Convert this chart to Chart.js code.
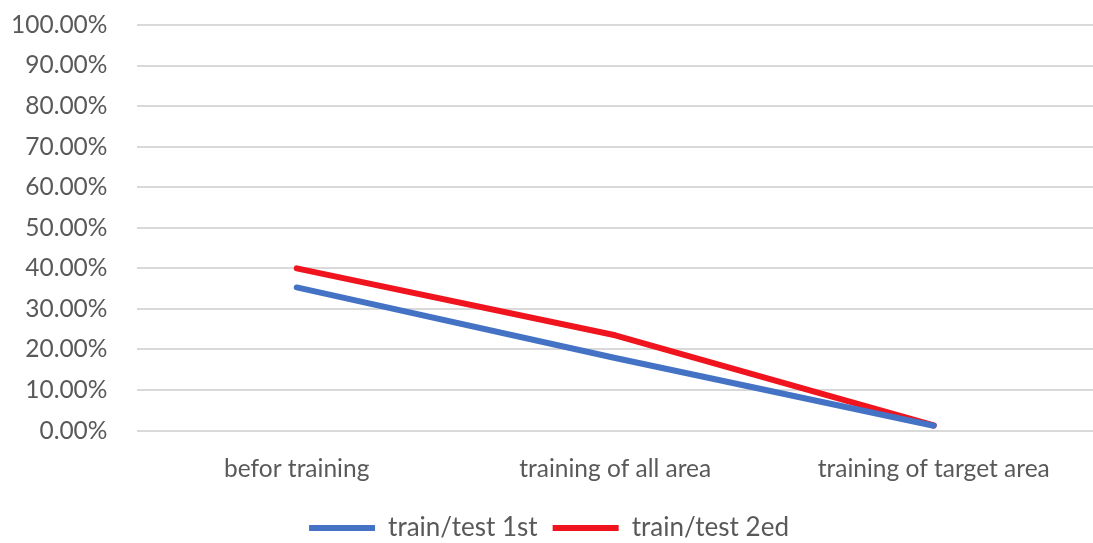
<!DOCTYPE html>
<html>
<head>
<meta charset="utf-8">
<script src="https://cdn.jsdelivr.net/npm/chart.js@4/dist/chart.umd.min.js"></script>
<style>
  html, body { margin: 0; padding: 0; background: #ffffff; }
  #wrap { width: 1093px; height: 543px; }
</style>
</head>
<body>
<div id="wrap"><canvas id="c" width="1093" height="543"></canvas></div>
<script>
// Stages of training (x categories)
const categories = ['befor training', 'training of all area', 'training of target area'];
// Error rate per run, in percent
const firstRun = [35.3, 17.9, 1.2];
const secondRun = [40.0, 23.5, 1.3];
const seriesNames = ['train/test 1st', 'train/test 2ed'];

const textColor = '#595959';
const fontFamily = 'Lato, "Open Sans", sans-serif';
const fontSize = 24.5;

new Chart(document.getElementById('c'), {
  type: 'line',
  data: {
    labels: categories,
    datasets: [
      {
        label: seriesNames[0],
        data: firstRun,
        borderColor: '#4472C4',
        backgroundColor: '#4472C4',
        borderWidth: 6,
        borderCapStyle: 'round',
        borderJoinStyle: 'round',
        pointRadius: 0,
        tension: 0
      },
      {
        label: seriesNames[1],
        data: secondRun,
        borderColor: '#F0141E',
        backgroundColor: '#F0141E',
        borderWidth: 6,
        borderCapStyle: 'round',
        borderJoinStyle: 'round',
        pointRadius: 0,
        tension: 0
      }
    ]
  },
  options: {
    responsive: false,
    animation: false,
    layout: { padding: { left: 5, right: 0, top: 25, bottom: -8 } },
    plugins: {
      tooltip: { enabled: false },
      legend: {
        position: 'bottom',
        labels: {
          usePointStyle: true,
          pointStyle: 'line',
          pointStyleWidth: 66,
          padding: 15,
          color: textColor,
          font: { family: fontFamily, size: 26 }
        }
      }
    },
    scales: {
      x: {
        offset: true,
        grid: { display: false },
        border: { display: false },
        ticks: {
          color: textColor,
          padding: 16,
          font: { family: fontFamily, size: fontSize }
        }
      },
      y: {
        min: 0,
        max: 100,
        border: { display: false },
        grid: {
          color: '#D9D9D9',
          lineWidth: 2,
          drawTicks: true,
          tickLength: 24,
          tickColor: 'rgba(0,0,0,0)'
        },
        ticks: {
          stepSize: 10,
          padding: 6,
          color: textColor,
          font: { family: fontFamily, size: fontSize, lineHeight: 0.5 },
          callback: v => v.toFixed(2) + '%'
        }
      }
    }
  }
});
</script>
</body>
</html>
